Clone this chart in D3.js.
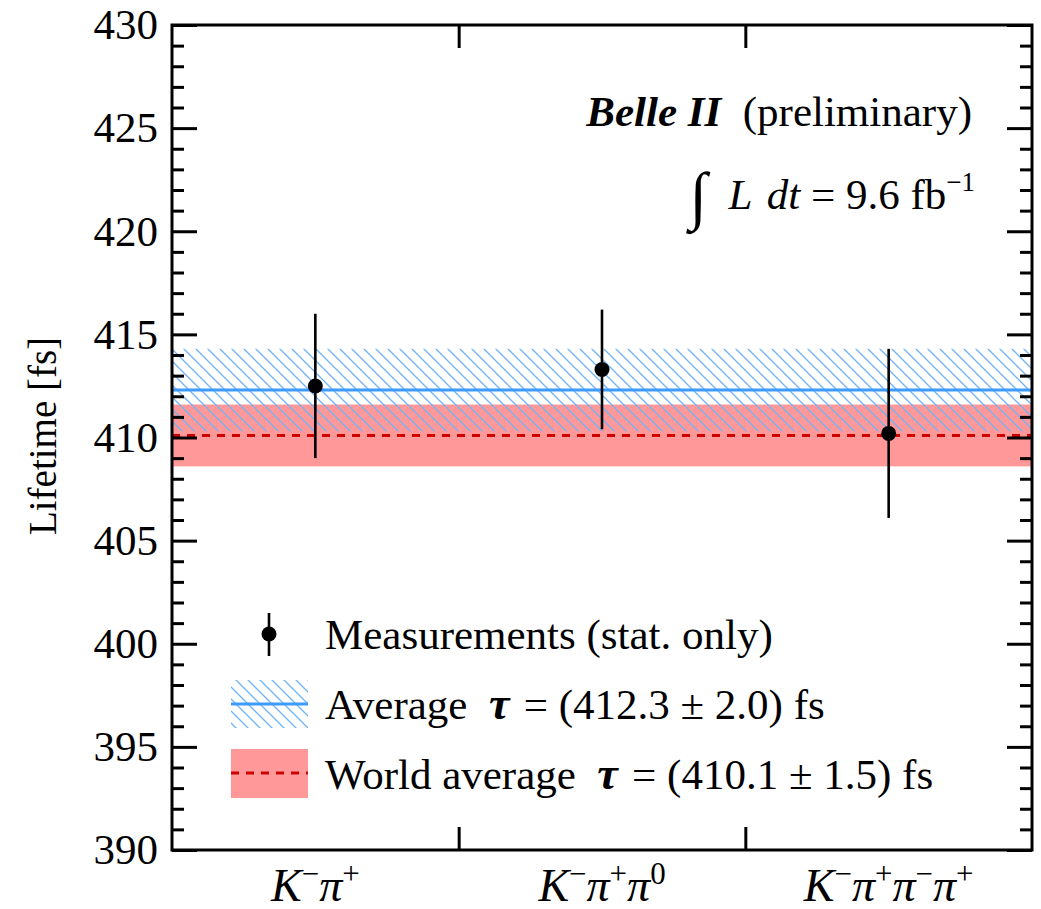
<!DOCTYPE html>
<html>
<head>
<meta charset="utf-8">
<script src="https://cdn.jsdelivr.net/npm/d3@7/dist/d3.min.js"></script>
<style>
  html, body { margin: 0; padding: 0; background: #fff; }
  svg { display: block; font-family: "Liberation Serif", "DejaVu Serif", serif; }
</style>
</head>
<body>
<div id="chart"></div>
<script>
// Belle II D0 lifetime summary plot
const categories = ["Kpi", "Kpipi0", "K3pi"];
const catLabels = [
  [["K", "−"], ["π", "+"]],
  [["K", "−"], ["π", "+"], ["π", "0"]],
  [["K", "−"], ["π", "+"], ["π", "−"], ["π", "+"]]
];
const lifetimes = [412.5, 413.3, 410.2];
const statErrors = [3.5, 2.9, 4.1];
const average = { value: 412.3, err: 2.0 };
const worldAverage = { value: 410.1, err: 1.5 };
const yMajorTicks = d3.range(390, 431, 5);
const yMinorTicks = d3.range(390, 431, 1).filter(v => v % 5 !== 0);

const W = 1041, H = 909;
const margin = { top: 25, right: 9, bottom: 59, left: 172 };
const innerW = W - margin.left - margin.right;
const innerH = H - margin.top - margin.bottom;
const serif = "Liberation Serif";

const blue = "#3d9bff";
const hatchBlue = "#6fb2f5";
const red = "#cc0000";
const pink = "#ff9898";

const svg = d3.select("#chart").append("svg")
  .attr("width", W).attr("height", H)
  .attr("font-family", serif);

// hatch pattern
const defs = svg.append("defs");
defs.append("pattern")
  .attr("id", "hatch")
  .attr("patternUnits", "userSpaceOnUse")
  .attr("width", 12).attr("height", 12)
  .call(p => {
    p.append("path")
      .attr("d", "M-3,-3 L15,15 M-3,9 L3,15 M9,-3 L15,3")
      .attr("stroke", hatchBlue).attr("stroke-width", 1.3);
  });

const g = svg.append("g").attr("transform", `translate(${margin.left},${margin.top})`);

const y = d3.scaleLinear().domain([390, 430]).range([innerH, 0]);
const x = d3.scaleBand().domain(categories).range([0, innerW]).padding(0);
const xIdx = d3.scaleLinear().domain([0, categories.length]).range([0, innerW]);

// world average band
g.append("rect")
  .attr("x", 0).attr("width", innerW)
  .attr("y", y(worldAverage.value + worldAverage.err))
  .attr("height", y(worldAverage.value - worldAverage.err) - y(worldAverage.value + worldAverage.err))
  .attr("fill", pink);

// average hatched band
g.append("rect")
  .attr("x", 0).attr("width", innerW)
  .attr("y", y(average.value + average.err))
  .attr("height", y(average.value - average.err) - y(average.value + average.err))
  .attr("fill", "url(#hatch)");

g.append("line")
  .attr("x1", 0).attr("x2", innerW)
  .attr("y1", y(worldAverage.value)).attr("y2", y(worldAverage.value))
  .attr("stroke", red).attr("stroke-width", 3).attr("stroke-dasharray", "8,7");

g.append("line")
  .attr("x1", 0).attr("x2", innerW)
  .attr("y1", y(average.value)).attr("y2", y(average.value))
  .attr("stroke", blue).attr("stroke-width", 3);

// measurements
const pts = g.selectAll(".pt").data(categories).enter().append("g").attr("class", "pt")
  .attr("transform", c => `translate(${x(c) + x.bandwidth() / 2},0)`);
pts.append("line")
  .attr("y1", (c, i) => y(lifetimes[i] + statErrors[i]))
  .attr("y2", (c, i) => y(lifetimes[i] - statErrors[i]))
  .attr("stroke", "#000").attr("stroke-width", 2.6);
pts.append("circle")
  .attr("cy", (c, i) => y(lifetimes[i]))
  .attr("r", 7.5).attr("fill", "#000");

// axes
function styleAxis(sel) {
  sel.attr("font-family", serif).attr("font-size", 43);
  sel.select(".domain").remove();
  sel.selectAll(".tick line").attr("stroke", "#000").attr("stroke-width", 3);
  sel.selectAll(".tick text").attr("fill", "#000");
}
g.append("g")
  .call(d3.axisLeft(y).tickValues(yMajorTicks).tickSize(-25).tickPadding(14).tickFormat(d3.format("d")))
  .call(styleAxis);
g.append("g")
  .call(d3.axisLeft(y).tickValues(yMinorTicks).tickSize(-12).tickFormat(""))
  .call(styleAxis);
g.append("g").attr("transform", `translate(${innerW},0)`)
  .call(d3.axisRight(y).tickValues(yMajorTicks).tickSize(-25).tickFormat(""))
  .call(styleAxis);
g.append("g").attr("transform", `translate(${innerW},0)`)
  .call(d3.axisRight(y).tickValues(yMinorTicks).tickSize(-12).tickFormat(""))
  .call(styleAxis);
g.append("g").attr("transform", `translate(0,${innerH})`)
  .call(d3.axisBottom(xIdx).tickValues([1, 2]).tickSize(-23).tickFormat(""))
  .call(styleAxis);
g.append("g")
  .call(d3.axisTop(xIdx).tickValues([1, 2]).tickSize(-23).tickFormat(""))
  .call(styleAxis);

// frame
g.append("rect")
  .attr("width", innerW).attr("height", innerH)
  .attr("fill", "none").attr("stroke", "#000").attr("stroke-width", 3);

// category labels
function addParts(text, parts) {
  parts.forEach(([base, sup], k) => {
    text.append("tspan").attr("font-style", "italic").attr("font-size", 46)
      .attr("dy", k === 0 ? 0 : 17).text(base);
    text.append("tspan").attr("font-size", 31).attr("dy", -17).text(sup);
  });
}
categories.forEach((c, i) => {
  const t = g.append("text")
    .attr("x", x(c) + x.bandwidth() / 2)
    .attr("y", innerH + 51)
    .attr("text-anchor", "middle")
    .attr("fill", "#000");
  addParts(t, catLabels[i]);
});

// y title
svg.append("text")
  .attr("transform", "translate(56,436) rotate(-90)")
  .attr("text-anchor", "middle")
  .attr("font-size", 39)
  .text("Lifetime [fs]");

// Belle II label
const t1 = svg.append("text").attr("x", 972).attr("y", 126)
  .attr("text-anchor", "end").attr("font-size", 43);
t1.append("tspan").attr("font-weight", "bold").attr("font-style", "italic").text("Belle II");
t1.append("tspan").text("\u2002(preliminary)");

const t2 = svg.append("text").attr("x", 975).attr("y", 209)
  .attr("text-anchor", "end").attr("font-size", 43);
t2.append("tspan").attr("font-size", 64).attr("dy", 8).text("∫");
t2.append("tspan").attr("dy", -8).attr("font-style", "italic").text("\u2002L\u2004dt");
t2.append("tspan").text(" = 9.6 fb");
t2.append("tspan").attr("font-size", 27).attr("dy", -18).text("−1");

// legend
const lg = svg.append("g").attr("font-size", 43);
// measurements
lg.append("line").attr("x1", 269).attr("x2", 269).attr("y1", 613).attr("y2", 656)
  .attr("stroke", "#000").attr("stroke-width", 2.6);
lg.append("circle").attr("cx", 269).attr("cy", 634).attr("r", 7.5).attr("fill", "#000");
lg.append("text").attr("x", 325).attr("y", 649).text("Measurements (stat. only)");

// average
lg.append("rect").attr("x", 231).attr("y", 680).attr("width", 77).attr("height", 48).attr("fill", "url(#hatch)");
lg.append("line").attr("x1", 231).attr("x2", 308).attr("y1", 704).attr("y2", 704)
  .attr("stroke", blue).attr("stroke-width", 3);
const la = lg.append("text").attr("x", 325).attr("y", 719);
la.append("tspan").text("Average\u2002");
la.append("tspan").attr("font-style", "italic").attr("font-weight", "bold").attr("font-size", 46).text("τ");
la.append("tspan").text(`\u2004= (${average.value} ± ${average.err.toFixed(1)}) fs`);

// world average
lg.append("rect").attr("x", 231).attr("y", 749).attr("width", 77).attr("height", 49).attr("fill", pink);
lg.append("line").attr("x1", 231).attr("x2", 308).attr("y1", 773).attr("y2", 773)
  .attr("stroke", red).attr("stroke-width", 3).attr("stroke-dasharray", "8,7");
const lw = lg.append("text").attr("x", 325).attr("y", 789);
lw.append("tspan").text("World average\u2002");
lw.append("tspan").attr("font-style", "italic").attr("font-weight", "bold").attr("font-size", 46).text("τ");
lw.append("tspan").text(`\u2004= (${worldAverage.value} ± ${worldAverage.err.toFixed(1)}) fs`);
</script>
</body>
</html>
